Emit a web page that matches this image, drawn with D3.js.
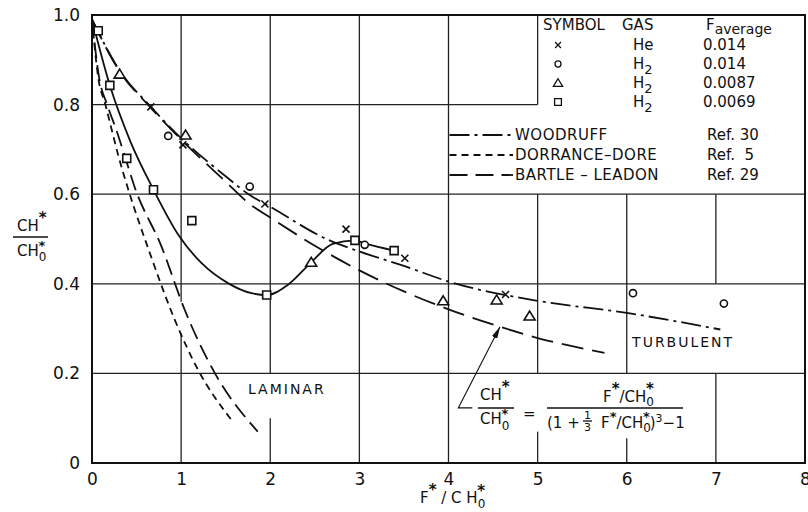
<!DOCTYPE html>
<html>
<head>
<meta charset="utf-8">
<script src="https://cdn.jsdelivr.net/npm/d3@7"></script>
<style>
  body { margin: 0; background: #fff; }
  svg { display: block; }
  text { font-family: "DejaVu Sans", sans-serif; fill: #111; }
</style>
</head>
<body>
<svg width="808" height="512"></svg>
<script>
// axis ticks
var xTicks = [0, 1, 2, 3, 4, 5, 6, 7, 8];
var yTicks = [0, 0.2, 0.4, 0.6, 0.8, 1.0];
var yTickLabels = ["0", "0.2", "0.4", "0.6", "0.8", "1.0"];

// measured points  [F*/CH0*, CH*/CH0*]
var heData   = [[0.66, 0.795], [1.02, 0.71], [1.94, 0.578], [2.85, 0.522], [3.51, 0.457], [4.64, 0.376]];
var h2Data14 = [[0.855, 0.73], [1.77, 0.617], [3.06, 0.487], [6.07, 0.379], [7.09, 0.356]];
var h2Data87 = [[0.31, 0.868], [1.05, 0.732], [2.46, 0.448], [3.94, 0.362], [4.54, 0.364], [4.91, 0.328]];
var h2Data69 = [[0.07, 0.965], [0.2, 0.843], [0.39, 0.68], [0.69, 0.61], [1.12, 0.541], [1.96, 0.375], [2.95, 0.497], [3.39, 0.474]];

// curves
var woodruff = [[0, 0.99], [0.31, 0.876], [0.65, 0.797], [1.0, 0.725], [1.5, 0.64], [1.77, 0.598], [2.0, 0.572],
                [2.63, 0.5], [3.0, 0.472], [3.5, 0.44], [4.0, 0.405], [5.0, 0.362], [6.0, 0.335], [7.05, 0.298]];
var bartleTurb = [[0, 0.99], [0.31, 0.874], [0.65, 0.795], [1.0, 0.722], [1.5, 0.628], [1.77, 0.578], [2.0, 0.548],
                  [2.5, 0.485], [3.0, 0.43], [3.5, 0.383], [4.0, 0.343], [4.58, 0.304], [5.0, 0.279], [5.75, 0.246]];
var dorrance = [[0, 0.99], [0.07, 0.86], [0.15, 0.8], [0.22, 0.745], [0.29, 0.69], [0.40, 0.615],
                [0.65, 0.468], [0.93, 0.319], [1.19, 0.208], [1.565, 0.096]];
var bartleLam = [[0, 0.99], [0.08, 0.86], [0.17, 0.8], [0.27, 0.745], [0.36, 0.69], [0.48, 0.615],
                 [0.78, 0.483], [1.04, 0.342], [1.38, 0.2], [1.86, 0.07]];
var fairing = [[0, 0.99], [0.2, 0.843], [0.43, 0.718], [0.69, 0.61], [0.97, 0.509], [1.23, 0.446],
               [1.53, 0.401], [1.79, 0.379], [1.96, 0.375], [2.2, 0.398], [2.46, 0.448], [2.7, 0.489],
               [2.95, 0.497], [3.06, 0.49], [3.39, 0.474]];

// legend
var legendSymbols = ["x", "o", "tri", "sq"];
var legendGas = ["He", "H", "H", "H"];
var legendGasSub = ["", "2", "2", "2"];
var legendF = ["0.014", "0.014", "0.0087", "0.0069"];
var curveNames = ["WOODRUFF", "DORRANCE\u2013DORE", "BARTLE \u2013 LEADON"];
var curveRefs = ["Ref. 30", "Ref.  5", "Ref. 29"];
var curveDash = ["20,5,3,5", "7,5", "18,8"];

var svg = d3.select("svg");

var x = d3.scaleLinear().domain([0, 8]).range([92, 805]);
var y = d3.scaleLinear().domain([0, 1]).range([463, 15]);

// grid lines, with the gaps left for the legend and labels
var vGaps = { 1: [[0.29, 0.36]], 2: [[0.1, 0.2]], 5: [[0.6, 0.8], [0.07, 0.2]], 6: [[0.6, 1.0], [0.055, 0.2]], 7: [[0.6, 1.0], [0.2, 0.4]] };
var hGaps = { 0.8: [[5, 8]] };

function pieces(lo, hi, gaps) {
  var out = [], start = lo;
  (gaps || []).slice().sort(function(a, b) { return a[0] - b[0]; }).forEach(function(g) {
    out.push([start, g[0]]);
    start = g[1];
  });
  out.push([start, hi]);
  return out;
}

var gridSegs = [];
xTicks.slice(1, -1).forEach(function(t) {
  pieces(0, 1, vGaps[t]).forEach(function(p) { gridSegs.push({ x1: x(t), x2: x(t), y1: y(p[0]), y2: y(p[1]) }); });
});
yTicks.slice(1, -1).forEach(function(t) {
  pieces(0, 8, hGaps[t]).forEach(function(p) { gridSegs.push({ x1: x(p[0]), x2: x(p[1]), y1: y(t), y2: y(t) }); });
});

svg.append("g")
    .attr("class", "grid")
  .selectAll("line")
  .data(gridSegs)
  .enter().append("line")
    .attr("x1", function(d) { return d.x1; })
    .attr("x2", function(d) { return d.x2; })
    .attr("y1", function(d) { return d.y1; })
    .attr("y2", function(d) { return d.y2; })
    .attr("stroke", "#222")
    .attr("stroke-width", 1.3);

// frame
svg.append("rect")
    .attr("x", x(0)).attr("y", y(1))
    .attr("width", x(8) - x(0)).attr("height", y(0) - y(1))
    .attr("fill", "none").attr("stroke", "#111").attr("stroke-width", 2);

// tick labels through the axes
var yAxis = svg.append("g")
    .attr("transform", "translate(" + x(0) + ",0)")
    .call(d3.axisLeft(y).tickValues(yTicks).tickSize(0).tickPadding(12)
      .tickFormat(function(d, i) { return yTickLabels[i]; }));
var xAxis = svg.append("g")
    .attr("transform", "translate(0," + y(0) + ")")
    .call(d3.axisBottom(x).tickValues(xTicks).tickSize(0).tickPadding(10).tickFormat(d3.format("d")));
[xAxis, yAxis].forEach(function(a) {
  a.select(".domain").remove();
  a.selectAll("text").attr("font-size", 17).attr("font-family", "DejaVu Sans, sans-serif").attr("fill", "#111");
});

// curves
var line = d3.line()
    .x(function(d) { return x(d[0]); })
    .y(function(d) { return y(d[1]); })
    .curve(d3.curveMonotoneX);

var curves = [
  { data: woodruff, dash: curveDash[0] },
  { data: dorrance, dash: curveDash[1] },
  { data: bartleTurb, dash: "22,9" },
  { data: bartleLam, dash: "16,7" },
  { data: fairing, dash: null }
];

svg.append("g")
  .selectAll("path")
  .data(curves)
  .enter().append("path")
    .attr("d", function(d) { return line(d.data); })
    .attr("fill", "none")
    .attr("stroke", "#111")
    .attr("stroke-width", 1.8)
    .attr("stroke-dasharray", function(d) { return d.dash; });

// markers
function markerPath(type) {
  if (type == "x") return "M-3.5,-3.5L3.5,3.5M3.5,-3.5L-3.5,3.5";
  if (type == "o") return d3.symbol().type(d3.symbolCircle).size(40)();
  if (type == "tri") return "M0,-5L5.5,4L-5.5,4Z";
  return "M-4,-4H4V4H-4Z";
}

var sets = [
  { data: heData, type: "x" },
  { data: h2Data14, type: "o" },
  { data: h2Data87, type: "tri" },
  { data: h2Data69, type: "sq" }
];

sets.forEach(function(s) {
  svg.append("g")
    .selectAll("path")
    .data(s.data)
    .enter().append("path")
      .attr("d", markerPath(s.type))
      .attr("transform", function(d) { return "translate(" + x(d[0]) + "," + y(d[1]) + ")"; })
      .attr("fill", s.type == "x" ? "none" : "#fff")
      .attr("stroke", "#111")
      .attr("stroke-width", 1.6);
});

// text with sub/superscripts kept in a single element
function rich(parent, px, py, parts, size) {
  var t = parent.append("text").attr("x", px).attr("y", py).attr("xml:space", "preserve");
  if (size) t.attr("font-size", size);
  parts.forEach(function(p) {
    var s = t.append("tspan").attr("y", py + (p.off || 0)).text(p.t);
    if (p.dx) s.attr("dx", p.dx);
    if (p.size) s.attr("font-size", p.size);
    if (p.bold) s.attr("font-weight", "bold");
  });
  return t;
}
var STAR = { t: "*", off: -8, bold: true };

// legend
var leg = svg.append("g").attr("font-size", 15);
leg.append("text").attr("x", 543).attr("y", 30).text("SYMBOL");
leg.append("text").attr("x", 622).attr("y", 30).text("GAS");
rich(leg, 706, 30, [{ t: "F" }, { t: "average", off: 4, size: 14 }]);

legendSymbols.forEach(function(s, i) {
  var by = 50 + i * 19;
  leg.append("path")
      .attr("d", markerPath(s))
      .attr("transform", "translate(558," + (by - 5) + ") scale(0.85)")
      .attr("fill", "#fff").attr("stroke", "#111").attr("stroke-width", 1.5);
  var parts = [{ t: legendGas[i] }];
  if (legendGasSub[i]) parts.push({ t: legendGasSub[i], off: 5, size: 13 });
  rich(leg, 633, by, parts);
  leg.append("text").attr("x", 703).attr("y", by).text(legendF[i]);
});

curveNames.forEach(function(n, i) {
  var by = 140 + i * 20;
  leg.append("line")
      .attr("x1", x(4) + 1).attr("x2", 513)
      .attr("y1", by - 5).attr("y2", by - 5)
      .attr("stroke", "#111").attr("stroke-width", 1.8)
      .attr("stroke-dasharray", curveDash[i]);
  leg.append("text").attr("x", 515).attr("y", by).attr("letter-spacing", 0.5).text(n);
  leg.append("text").attr("x", 707).attr("y", by).attr("xml:space", "preserve").text(curveRefs[i]);
});

// region labels
svg.append("text").attr("x", x(1.75)).attr("y", y(0.155)).attr("font-size", 14)
    .attr("letter-spacing", 2).text("LAMINAR");
svg.append("text").attr("x", x(6.06)).attr("y", y(0.26)).attr("font-size", 14)
    .attr("letter-spacing", 2).text("TURBULENT");

function hbar(parent, x1, x2, py) {
  parent.append("line").attr("x1", x1).attr("x2", x2).attr("y1", py).attr("y2", py)
      .attr("stroke", "#111").attr("stroke-width", 1.3);
}

// y axis title
var yt = svg.append("g").attr("font-size", 15);
rich(yt, 17, 231, [{ t: "CH" }, STAR]);
hbar(yt, 13, 48, 237);
rich(yt, 17, 256, [{ t: "CH" }, { t: "0", off: 5, size: 12 }, { t: "*", off: -6, dx: -8, bold: true, size: 13 }]);

// x axis title
var xt = svg.append("g").attr("font-size", 15);
rich(xt, 420, 503, [{ t: "F" }, STAR, { t: " / C H" }, { t: "0", off: 5, size: 12 }, { t: "*", off: -7, dx: -8, bold: true }]);

// formula annotation
var fx = svg.append("g").attr("font-size", 15);
rich(fx, 480, 400, [{ t: "CH" }, STAR]);
hbar(fx, 478, 514, 408);
rich(fx, 480, 424, [{ t: "CH" }, { t: "0", off: 6, size: 12 }, { t: "*", off: -6, dx: -8, bold: true, size: 13 }]);
fx.append("text").attr("x", 523).attr("y", 419).text("=");
rich(fx, 603, 402, [{ t: "F" }, STAR, { t: "/CH" }, { t: "0", off: 4, size: 12 }, { t: "*", off: -8, dx: -8, bold: true }]);
hbar(fx, 547, 683, 408);
fx.append("text").attr("x", 547).attr("y", 428).text("(1 +");
fx.append("text").attr("x", 584).attr("y", 419).attr("font-size", 11).text("1");
hbar(fx, 583, 592, 421);
fx.append("text").attr("x", 584).attr("y", 431).attr("font-size", 11).text("3");
rich(fx, 601, 428, [{ t: "F" }, { t: "*", off: -7, bold: true, size: 13 }, { t: "/CH" }, { t: "0", off: 4, size: 12 },
                    { t: "*", off: -7, dx: -8, bold: true, size: 13 }, { t: ")" }, { t: "3", off: -6, size: 11 }, { t: "\u22121" }]);

// arrow to the Bartle-Leadon turbulent curve
svg.append("defs").append("marker")
    .attr("id", "head")
    .attr("viewBox", "0 0 12 6")
    .attr("refX", 12).attr("refY", 3)
    .attr("markerWidth", 12).attr("markerHeight", 6)
    .attr("markerUnits", "userSpaceOnUse")
    .attr("orient", "auto")
  .append("path").attr("d", "M0,0L12,3L0,6Z").attr("fill", "#111");

var tail = [4.11, 0.123], tip = [4.578, 0.304];
svg.append("path")
    .attr("d", "M" + (x(tail[0]) + 14) + "," + y(tail[1]) + "L" + x(tail[0]) + "," + y(tail[1]) +
               "L" + x(tip[0]) + "," + y(tip[1]))
    .attr("fill", "none").attr("stroke", "#111").attr("stroke-width", 1.1)
    .attr("marker-end", "url(#head)");
</script>
</body>
</html>
